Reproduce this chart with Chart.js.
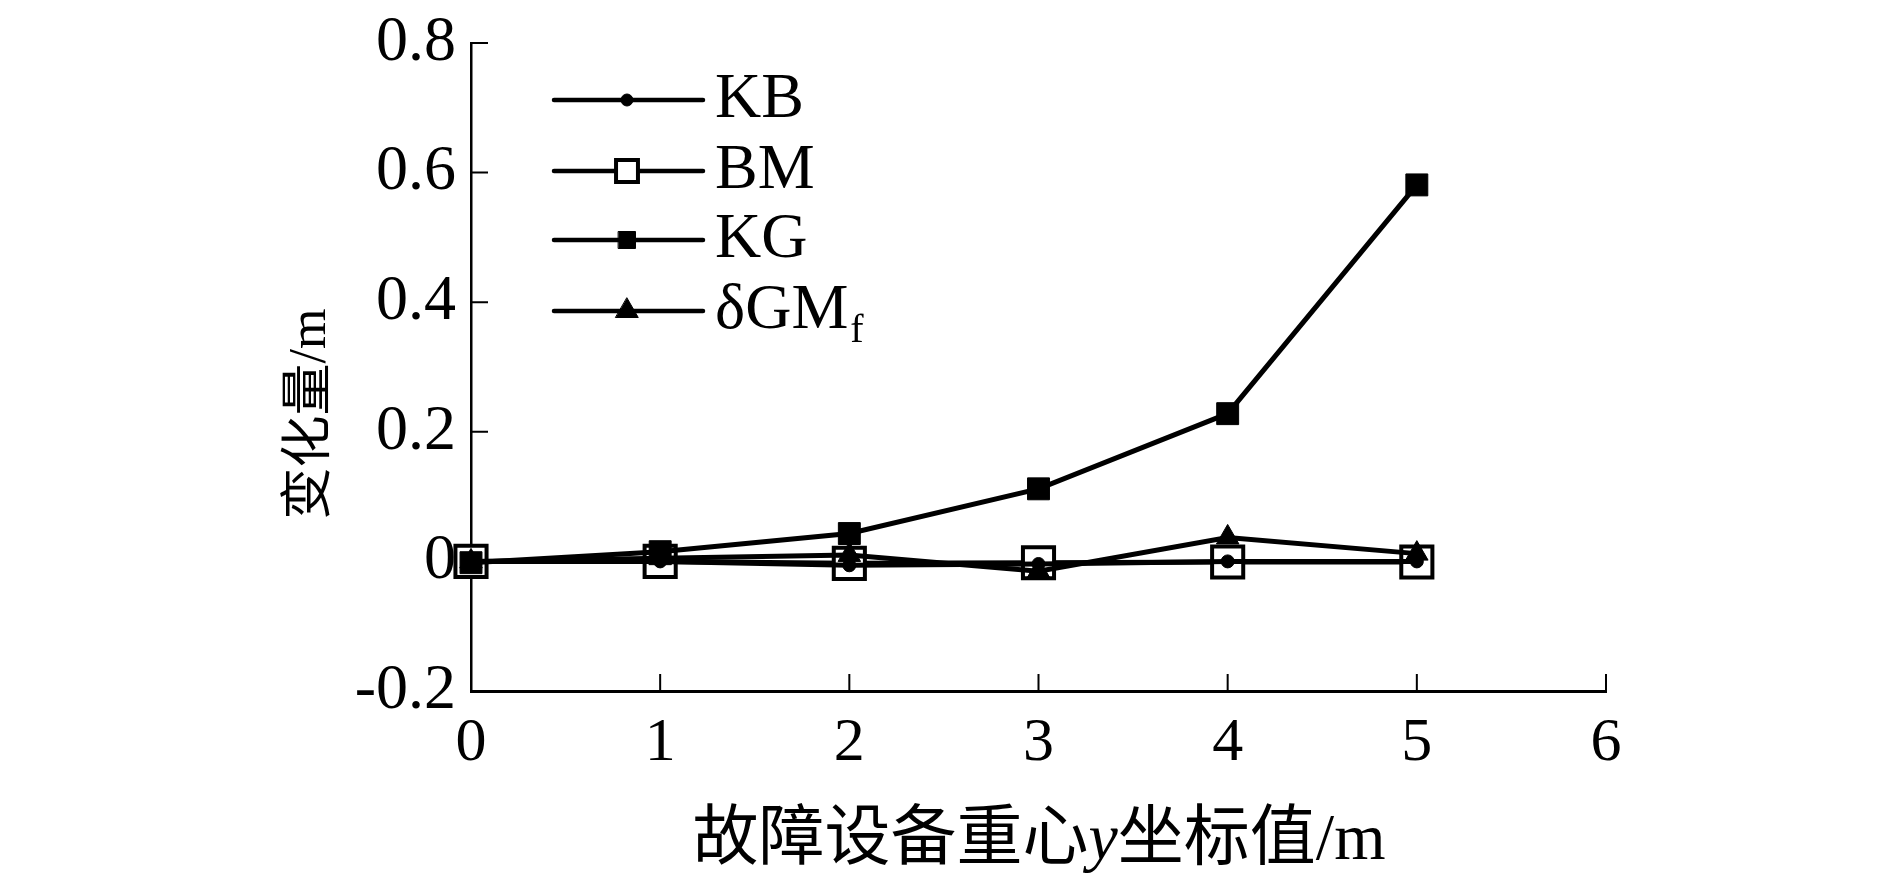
<!DOCTYPE html>
<html>
<head>
<meta charset="utf-8">
<script src="https://cdn.jsdelivr.net/npm/chart.js@4.4.0/dist/chart.umd.min.js"></script>
<style>
  html, body { margin: 0; padding: 0; background: #fff; }
  #wrap { width: 1890px; height: 879px; }
</style>
</head>
<body>
<div id="wrap"><canvas id="myChart"></canvas></div>
<script>
// x positions (y coordinate of the faulty equipment's centre of gravity, m)
const xValues = [0, 1, 2, 3, 4, 5];
// changes, m
const kbValues = [0, 0, -0.006, -0.004, 0, 0];
const bmValues = [0, 0, -0.003, -0.002, -0.001, -0.001];
const kgValues = [-0.002, 0.015, 0.043, 0.112, 0.228, 0.581];
const gmValues = [0, 0.005, 0.01, -0.015, 0.037, 0.012];

const seriesNames = ["KB", "BM", "KG", "δGM"];
const yTicks = [-0.2, 0, 0.2, 0.4, 0.6, 0.8];
const xTicks = [0, 1, 2, 3, 4, 5, 6];

const serif = '"Liberation Serif", "Times New Roman", serif';
const cjk = '"Liberation Serif", "Noto Sans CJK SC", serif';

const toPoints = (vals) => vals.map((v, i) => ({ x: xValues[i], y: v }));

const base = {
  borderColor: "#000",
  borderWidth: 5,
  pointBorderColor: "#000",
  pointBorderWidth: 1,
  tension: 0,
  clip: false,
};

// legend marker sizes are smaller than in the plot
const legendRadius = [6, 15.5, 12, 13];

const data = {
  datasets: [
    Object.assign({}, base, {
      label: seriesNames[0], data: toPoints(kbValues),
      pointStyle: "circle", pointRadius: 6.5, pointBackgroundColor: "#000", order: 0,
    }),
    Object.assign({}, base, {
      label: seriesNames[1], data: toPoints(bmValues),
      pointStyle: "rect", pointRadius: 22, pointBackgroundColor: "#fff",
      pointBorderWidth: 4, order: 3,
    }),
    Object.assign({}, base, {
      label: seriesNames[2], data: toPoints(kgValues),
      pointStyle: "rect", pointRadius: 15.5, pointBackgroundColor: "#000", order: 1,
    }),
    Object.assign({}, base, {
      label: seriesNames[3], data: toPoints(gmValues),
      pointStyle: "triangle", pointRadius: 13, pointBackgroundColor: "#000", order: 2,
    }),
  ],
};

// ticks pointing into the plot, like the original figure
const innerTicks = {
  id: "innerTicks",
  afterDraw(chart) {
    const ctx = chart.ctx;
    const x = chart.scales.x, y = chart.scales.y;
    const len = 17;
    ctx.save();
    ctx.strokeStyle = "#000";
    ctx.lineWidth = 2;
    ctx.beginPath();
    xTicks.forEach((t) => {
      const px = x.getPixelForValue(t);
      ctx.moveTo(px, y.bottom);
      ctx.lineTo(px, y.bottom - len);
    });
    yTicks.forEach((t) => {
      const py = y.getPixelForValue(t);
      ctx.moveTo(x.left, py);
      ctx.lineTo(x.left + len, py);
    });
    ctx.stroke();
    ctx.restore();
  },
};

// legend with line + marker, and axis titles with mixed styles
const extras = {
  id: "extras",
  afterDraw(chart) {
    const ctx = chart.ctx;
    const rows = [100, 171, 240, 311];
    ctx.save();
    chart.data.datasets.forEach((ds, i) => {
      const yy = rows[i];
      ctx.strokeStyle = "#000";
      ctx.lineWidth = 4.5;
      ctx.lineCap = "round";
      ctx.beginPath();
      ctx.moveTo(554, yy);
      ctx.lineTo(703, yy);
      ctx.stroke();
      ctx.fillStyle = ds.pointBackgroundColor;
      ctx.strokeStyle = "#000";
      ctx.lineWidth = ds.pointBorderWidth;
      Chart.helpers.drawPoint(ctx, {
        pointStyle: ds.pointStyle, radius: legendRadius[i], rotation: 0,
        borderWidth: ds.pointBorderWidth,
      }, 627, yy);
      ctx.fillStyle = "#000";
      ctx.textBaseline = "middle";
      ctx.textAlign = "left";
      ctx.font = "64px " + serif;
      ctx.fillText(ds.label, 715, yy);
      if (i === 3) {
        const w = ctx.measureText(ds.label).width;
        ctx.font = "40px " + serif;
        ctx.fillText("f", 715 + w + 2, yy + 20);
      }
    });

    // x title: 故障设备重心y坐标值/m  (y in italic)
    const parts = [
      ["故障设备重心", "66px " + cjk],
      ["y", "italic 66px " + serif],
      ["坐标值/m", "66px " + cjk],
    ];
    let total = 0;
    parts.forEach((p) => { ctx.font = p[1]; total += ctx.measureText(p[0]).width; });
    let cx = 1039 - total / 2;
    ctx.textBaseline = "middle";
    ctx.textAlign = "left";
    parts.forEach((p) => {
      ctx.font = p[1];
      ctx.fillText(p[0], cx, 842);
      cx += ctx.measureText(p[0]).width;
    });

    // y title
    ctx.translate(311, 414);
    ctx.rotate(-Math.PI / 2);
    ctx.font = "52px " + cjk;
    ctx.textAlign = "center";
    ctx.fillText("变化量/m", 0, 0);
    ctx.restore();
  },
};

const config = {
  type: "line",
  data: data,
  options: {
    responsive: true,
    maintainAspectRatio: false,
    animation: false,
    layout: { padding: { left: 0, top: 43, right: 284, bottom: 0 } },
    plugins: { legend: { display: false }, tooltip: { enabled: false } },
    scales: {
      x: {
        type: "linear",
        min: 0, max: 6,
        afterFit: (s) => { s.height = 879 - 691; s.paddingRight = 0; s.paddingLeft = 0; },
        afterBuildTicks: (s) => { s.ticks = xTicks.map((v) => ({ value: v })); },
        grid: { display: true, drawOnChartArea: false, drawTicks: false },
        border: { color: "#000", width: 3 },
        ticks: { color: "#000", padding: 16, font: { family: serif, size: 62 } },
      },
      y: {
        min: -0.2, max: 0.8,
        afterFit: (s) => { s.width = 471; s.paddingTop = 0; s.paddingBottom = 0; },
        afterBuildTicks: (s) => { s.ticks = yTicks.map((v) => ({ value: v })); },
        grid: { display: true, drawOnChartArea: false, drawTicks: false },
        border: { color: "#000", width: 2.5 },
        ticks: {
          color: "#000", padding: 15, font: { family: serif, size: 64 },
          callback: (v) => String(Math.round(v * 10) / 10),
        },
      },
    },
  },
  plugins: [innerTicks, extras],
};

const myChart = new Chart(document.getElementById("myChart"), config);
</script>
</body>
</html>
